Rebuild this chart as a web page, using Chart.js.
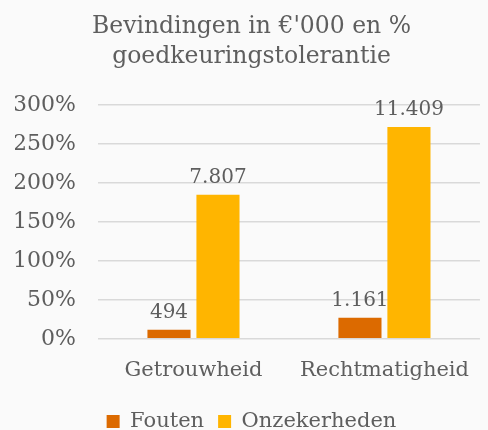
<!DOCTYPE html>
<html>
<head>
<meta charset="utf-8">
<script src="https://cdn.jsdelivr.net/npm/chart.js@4"></script>
<style>
  html, body { margin: 0; padding: 0; background: #fafafa; }
  #wrap { width: 488px; height: 430px; }
</style>
</head>
<body>
<div id="wrap"><canvas id="chart" width="488" height="430"></canvas></div>
<script>
// categorieën en reeksen
const categories = ['Getrouwheid', 'Rechtmatigheid'];
const foutenPct = [11.5, 27];
const onzekerPct = [185, 272];
const foutenLabels = ['494', '1.161'];
const onzekerLabels = ['7.807', '11.409'];
const titleLines = ["Bevindingen in €'000 en %", 'goedkeuringstolerantie'];

const textColor = '#5e5e5e';
const serif = "'DejaVu Serif', Georgia, serif";

// tekst boven de staven
const barLabels = {
  id: 'barLabels',
  afterDatasetsDraw(chart) {
    const ctx = chart.ctx;
    ctx.save();
    ctx.fillStyle = textColor;
    ctx.font = '20px ' + serif;
    ctx.textAlign = 'center';
    ctx.textBaseline = 'alphabetic';
    chart.data.datasets.forEach((ds, i) => {
      const meta = chart.getDatasetMeta(i);
      meta.data.forEach((bar, j) => {
        ctx.fillText(ds.valueLabels[j], bar.x, bar.y - 12);
      });
    });
    ctx.restore();
  }
};

new Chart(document.getElementById('chart'), {
  type: 'bar',
  data: {
    labels: categories,
    datasets: [
      { label: 'Fouten', data: foutenPct, valueLabels: foutenLabels, backgroundColor: '#dc6a00' },
      { label: 'Onzekerheden', data: onzekerPct, valueLabels: onzekerLabels, backgroundColor: '#ffb500' }
    ]
  },
  options: {
    responsive: false,
    animation: false,
    categoryPercentage: 0.513,
    barPercentage: 0.88,
    layout: { padding: { left: 15, right: 0, top: 0, bottom: -12 } },
    plugins: {
      title: {
        display: true,
        text: titleLines,
        color: textColor,
        font: { family: serif, size: 23.5, weight: 'normal', lineHeight: 1.28 },
        padding: { top: 12, bottom: 33 }
      },
      legend: {
        position: 'bottom',
        labels: {
          color: textColor,
          boxWidth: 13,
          boxHeight: 13,
          padding: 14,
          font: { family: serif, size: 21 }
        }
      },
      tooltip: { enabled: false }
    },
    scales: {
      x: {
        grid: { display: false, drawTicks: false },
        border: { display: false },
        ticks: { color: textColor, font: { family: serif, size: 21 }, padding: 19 },
        afterFit(scale) { scale.height -= 5; }
      },
      y: {
        min: 0,
        max: 300,
        grid: { color: '#d9d9d9', lineWidth: 1.5, drawTicks: false },
        border: { display: false },
        ticks: {
          stepSize: 50,
          color: textColor,
          padding: 22,
          font: { family: serif, size: 22 },
          callback: v => v + '%'
        },
        afterFit(scale) { scale.width = 83; }
      }
    }
  },
  plugins: [barLabels]
});
</script>
</body>
</html>
